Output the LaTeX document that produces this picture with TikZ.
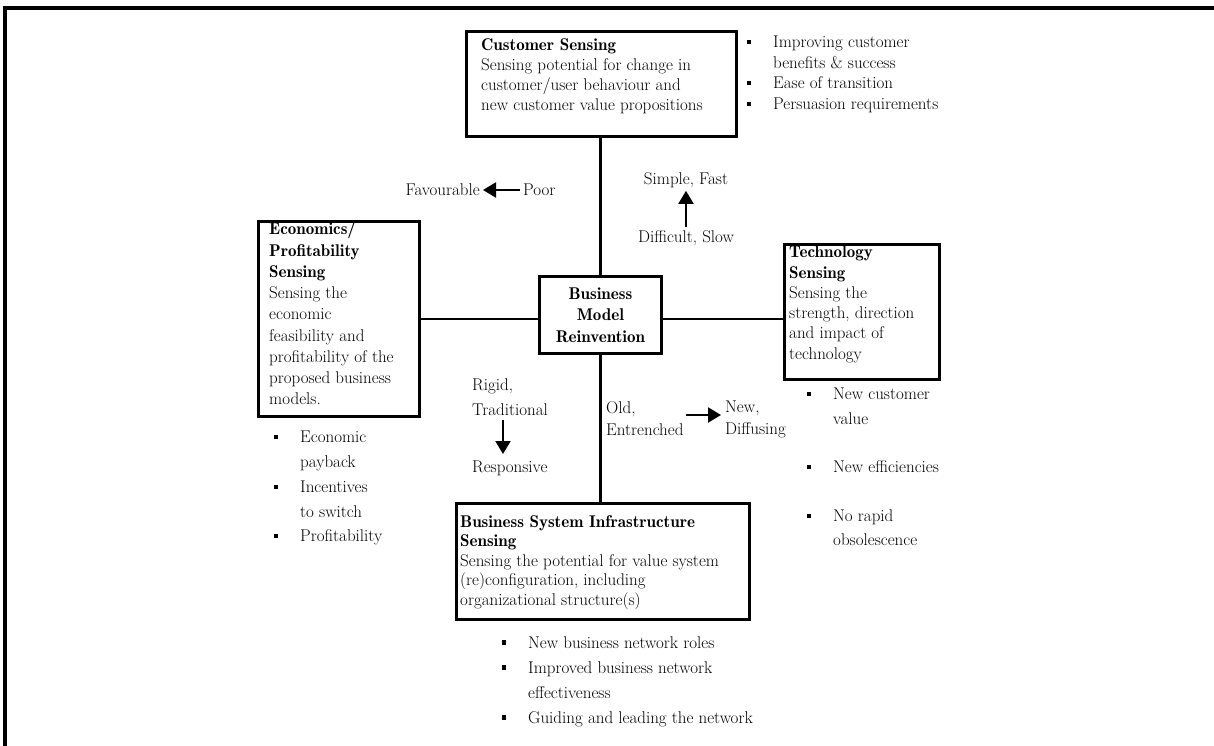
\documentclass[tikz,border=0pt]{standalone}
\usetikzlibrary{arrows.meta}
% bold headings use the Latin Modern demi weight
\newcommand\hd[1]{{\fontseries{b}\selectfont #1}}
\newlength\bulw
\setlength\bulw{27pt}
\newcommand\itm{\makebox[\bulw][l]{\hspace{1pt}\rule[3.5pt]{4.2pt}{4.2pt}}}
\newcommand\itmsp{\hspace*{\bulw}}
\begin{document}
\begin{tikzpicture}[x=1pt,y=-1pt,
  box/.style={draw,line width=2.8pt,rectangle,inner sep=0pt,anchor=north west},
  txt/.style={inner sep=0pt,anchor=north west,align=left,font=\fontsize{17}{20}\selectfont},
  lbl/.style={inner sep=3pt,font=\fontsize{17}{20}\selectfont},
  link/.style={line width=2.8pt},
  arr/.style={line width=2pt,-{Triangle[length=13pt,width=15pt]}}]
\useasboundingbox (0,0) rectangle (1214,746);

% outer frame
\draw[line width=3.6pt] (1220,8) -- (5,8) -- (5,752);

% Customer sensing
\node[box,minimum width=270,minimum height=105] (cust) at (465,30) {};
\node[txt] (custt) at (481,38) {\hd{Customer Sensing}\\Sensing potential for change in\\customer/user behaviour and\\new customer value propositions};
\node[txt,font=\fontsize{17}{20.5}\selectfont] (custb) at (746,36) {\itm Improving customer\\\itmsp benefits \& success\\\itm Ease of transition\\\itm Persuasion requirements};

% Economics / profitability sensing
\node[box,minimum width=161,minimum height=195] (econ) at (257,220) {};
\node[txt,font=\fontsize{17}{21.25}\selectfont] (econt) at (269,222) {\hd{Economics/}\\\hd{Profitability}\\\hd{Sensing}\\Sensing the\\economic\\feasibility and\\profitability of the\\proposed business\\models.};
\node[txt,font=\fontsize{17}{24.75}\selectfont] (econb) at (273,431) {\itm Economic\\\itmsp payback\\\itm Incentives\\\itmsp to switch\\\itm Profitability};

% Business model reinvention
\node[box,minimum width=122,minimum height=77] (bmr) at (538,275) {};
\node[txt,anchor=center,align=center,font=\fontsize{17}{21.5}\selectfont] (bmrt) at (bmr.center) {\hd{Business}\\\hd{Model}\\\hd{Reinvention}};

% Technology sensing
\node[box,minimum width=155,minimum height=135] (tech) at (783,243) {};
\node[txt,font=\fontsize{17}{20.2}\selectfont] (techt) at (789,246) {\hd{Technology}\\\hd{Sensing}\\Sensing the\\strength, direction\\and impact of\\technology};
\node[txt,font=\fontsize{17}{24.3}\selectfont] (techb) at (806,388) {\itm New customer\\\itmsp value\\[24.3pt]\itm New efficiencies\\[24.3pt]\itm No rapid\\\itmsp obsolescence};

% Business system infrastructure sensing
\node[box,minimum width=293,minimum height=116] (bsi) at (455,502) {};
\node[txt,font=\fontsize{17}{19.5}\selectfont] (bsit) at (460,515) {\hd{Business System Infrastructure}\\\hd{Sensing}\\Sensing the potential for value system\\(re)configuration, including\\organizational structure(s)};
\node[txt,font=\fontsize{17}{25}\selectfont] (bsib) at (501,636) {\itm New business network roles\\\itm Improved business network\\\itmsp effectiveness\\\itm Guiding and leading the network};

% connectors to the central box
\draw[link] (econ.east) -- (econ.east -| bmr.west);
\draw[link] (econ.east -| bmr.east) -- (econ.east -| tech.west);
\draw[link] (bmr.north) -- (bmr.north |- cust.south);
\draw[link] (bmr.south) -- (bmr.south |- bsi.north);

% direction labels
\node[lbl,anchor=east] (fav) at (483,190) {Favourable};
\node[lbl,anchor=west] (poor) at (520,190) {Poor};
\draw[arr] (poor) -- (fav);

\node[lbl] (simple) at (686,180) {Simple, Fast};
\node[lbl] (diff) at (686,238) {Difficult, Slow};
\draw[arr] (diff) -- (simple);

\node[txt,font=\fontsize{17}{25}\selectfont] (rigid) at (472,378) {Rigid,\\Traditional};
\node[txt] (resp) at (472,461) {Responsive};
\coordinate (rtop) at (503,420);
\coordinate (rbot) at (503,454);
\draw[arr] (rtop) -- (rbot);

\node[txt,font=\fontsize{17}{22}\selectfont] (old) at (606,401) {Old,\\Entrenched};
\node[txt,font=\fontsize{17}{22}\selectfont] (new) at (725,401) {New,\\Diffusing};
\coordinate (oa) at (686,415);
\coordinate (ob) at (721,415);
\draw[arr] (oa) -- (ob);
\end{tikzpicture}
\end{document}
